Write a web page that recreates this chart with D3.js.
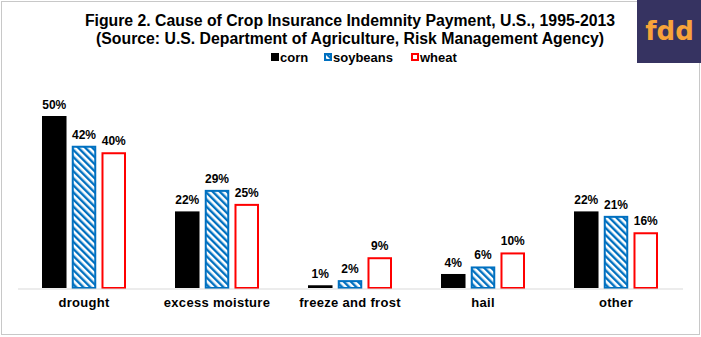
<!DOCTYPE html>
<html><head><meta charset="utf-8">
<script src="https://cdn.jsdelivr.net/npm/d3@7"></script>
<style>body{margin:0;background:#fff}svg{display:block}</style>
</head><body>
<script>
const categories = ["drought","excess moisture","freeze and frost","hail","other"];
const seriesNames = ["corn","soybeans","wheat"];
const corn =     [50.3, 22.4, 0.8, 4.1, 22.4];
const soybeans = [41.6, 28.7, 2.3, 6.3, 21.1];
const wheat =    [39.7, 24.6, 9.0, 10.4, 16.3];
const titleLines = ["Figure 2. Cause of Crop Insurance Indemnity Payment, U.S., 1995-2013",
                    "(Source: U.S. Department of Agriculture, Risk Management Agency)"];

const W = 701, H = 337;
const svg = d3.select("body").append("svg").attr("width", W).attr("height", H);
const defs = svg.append("defs");
const pat = defs.append("pattern").attr("id","hatch").attr("patternUnits","userSpaceOnUse")
  .attr("width",5).attr("height",5).attr("patternTransform","rotate(-45)");
pat.append("rect").attr("width",5).attr("height",5).attr("fill","#fff");
pat.append("rect").attr("x",0).attr("width",2.4).attr("height",5).attr("fill","#0070C0");

// border
svg.append("rect").attr("x",1.5).attr("y",1.5).attr("width",698).attr("height",333)
  .attr("fill","none").attr("stroke","#c8c8c8").attr("stroke-width",1);

// logo
svg.append("rect").attr("x",637).attr("y",0).attr("width",64).attr("height",63).attr("fill","#363361");
svg.append("text").attr("x",669.5).attr("y",40).attr("text-anchor","middle")
  .attr("font-family","'DejaVu Sans', sans-serif").attr("font-weight","bold")
  .attr("font-size",26).attr("fill","#F7A33A").text("fdd");

// title
const font = "'Liberation Sans', Arial, sans-serif";
svg.append("g").selectAll("text").data(titleLines).join("text")
  .attr("x",350).attr("y",(d,i)=>25.5+i*18.5).attr("text-anchor","middle")
  .attr("font-family",font).attr("font-weight","bold").attr("font-size",15.8)
  .attr("fill","#000").text(d=>d);

const data = categories.map((c,i)=>({cat:c, vals:[corn[i],soybeans[i],wheat[i]]}));

const x0 = d3.scaleBand().domain(categories).range([17.5,682.5]).paddingInner(0).paddingOuter(0);
const groupW = 84;
const x1 = d3.scaleBand().domain(seriesNames).range([0,groupW]).paddingInner(0.176).paddingOuter(0);
const y = d3.scaleLinear().domain([0,50.3]).range([288,116]);

const styles = {
  corn: {fill:"#000", stroke:"none"},
  soybeans: {fill:"url(#hatch)", stroke:"#0070C0"},
  wheat: {fill:"#fff", stroke:"#FF0000"}
};

const g = svg.append("g");
const groups = g.selectAll("g").data(data).join("g")
  .attr("transform", d=>`translate(${x0(d.cat)+x0.bandwidth()/2-groupW/2},0)`);
const bars = groups.selectAll("g").data(d=>d.vals.map((v,i)=>({s:seriesNames[i], v}))).join("g");
bars.append("rect")
  .attr("x", d=> x1(d.s) + (d.s==="corn"?0:1))
  .attr("width", d=> x1.bandwidth() - (d.s==="corn"?0:2))
  .attr("y", d=> y(d.v) + (d.s==="corn"?0:1))
  .attr("height", d=> Math.max(0, y(0)-y(d.v) - (d.s==="corn"?0:1)))
  .attr("fill", d=>styles[d.s].fill)
  .attr("stroke", d=>styles[d.s].stroke)
  .attr("stroke-width", 2);
bars.append("text")
  .attr("x", d=> x1(d.s)+x1.bandwidth()/2)
  .attr("y", d=> y(d.v)-7)
  .attr("text-anchor","middle")
  .attr("font-family",font).attr("font-weight","bold").attr("font-size",12)
  .text(d=> Math.round(d.v)+"%");

// axis
const axis = d3.axisBottom(x0).tickSize(0).tickPadding(10);
const ax = svg.append("g").attr("transform","translate(0,288.5)").call(axis);
ax.select(".domain").attr("stroke","#d9d9d9").attr("stroke-width",1);
ax.selectAll("text").attr("font-family",font).attr("font-weight","bold").attr("font-size",13)
  .attr("letter-spacing","0.3px")
  .attr("fill","#000").attr("dy","0.71em").attr("y",9);

// legend
const legX = [271, 324, 411];
const lg = svg.append("g").selectAll("g").data(seriesNames).join("g")
  .attr("transform",(d,i)=>`translate(${legX[i]},53)`);
lg.append("rect").attr("x",d=>d==="corn"?0:1).attr("y",d=>d==="corn"?0:1)
  .attr("width",d=>d==="corn"?8:6).attr("height",d=>d==="corn"?8:6)
  .attr("fill",d=>styles[d].fill).attr("stroke",d=>styles[d].stroke).attr("stroke-width",2);
lg.append("text").attr("x",9).attr("y",8.5)
  .attr("font-family",font).attr("font-weight","bold").attr("font-size",13).text(d=>d);
</script>
</body></html>
